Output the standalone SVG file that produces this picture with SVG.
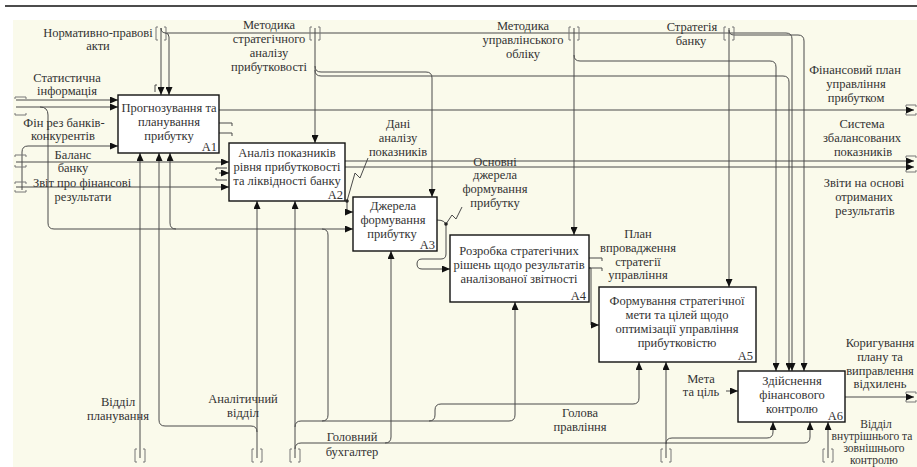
<svg xmlns="http://www.w3.org/2000/svg" width="917" height="467" viewBox="0 0 917 467">
<style>
.bg{fill:#fafaeb}
.box rect{fill:#fff;stroke:#111;stroke-width:1.4}
text{font-family:"Liberation Serif","Times New Roman",serif;fill:#333;text-anchor:middle}
.box text{font-size:12.5px}
.lbl text{font-size:12.5px}
.lbl text.s{font-size:11.5px}
.box text.id{text-anchor:end}
#connectors path{fill:none;stroke:#4a4a4a;stroke-width:1}
#connectors path.a{marker-end:url(#arr)}
.br{fill:none;stroke:#777;stroke-width:1}
.dot{fill:#222}
</style>
<defs>
<marker id="arr" markerUnits="userSpaceOnUse" markerWidth="9" markerHeight="7" refX="8" refY="3.5" orient="auto">
<path d="M0,0 L8,3.5 L0,7 z" fill="#111"/>
</marker>
</defs>
<rect x="0" y="0" width="917" height="467" fill="#fff"/>
<rect class="bg" x="13" y="20" width="904" height="447"/>
<line x1="5" y1="6" x2="917" y2="6" stroke="#111" stroke-width="1.5"/>

<g id="connectors">
<path class="a" d="M161,28 V95"/>
<path class="a" d="M161,28 q0,5 5,5 H786 q6,0 6,6 V371"/>
<path class="a" d="M165,33 q4,0 4,4 V95"/>
<path class="a" d="M315,28 V143"/>
<path class="a" d="M315,66 q0,6 6,6 H426 q6,0 6,6 V197"/>
<path class="a" d="M315,70 q0,6 6,6 H783 q6,0 6,6 V371"/>
<path class="a" d="M574,28 V235"/>
<path class="a" d="M574,55 q0,6 6,6 H770 q6,0 6,6 V371"/>
<path class="a" d="M729,28 V287"/>
<path class="a" d="M729,30 q0,5 5,5 H798 q6,0 6,6 V371"/>
<path class="a" d="M16,100 H118"/>
<path class="a" d="M16,107 H118"/>
<path class="a" d="M40,107 q8,0 8,8 V223 q0,6 6,6 H353"/>
<path class="a" d="M22,190 V152 q0,-6 6,-6 H118"/>
<path class="a" d="M16,162 H229"/>
<path class="a" d="M16,187 H229"/>
<path class="a" d="M219,173 H229"/>
<path d="M216,170 v-2 h11"/>
<path d="M216,178 v2 h11"/>
<path d="M219,123 H232 v3"/>
<path d="M219,133 H232 v3"/>
<path d="M157,85 h-2 v7"/>
<path class="a" d="M176,229 q-6,0 -6,-6 V153"/>
<path class="a" d="M347,201 V212 H353"/>
<path class="a" d="M437,220 q9,0 9,6 V254 q0,5 -5,5 H422 q-5,0 -5,5 q0,5 5,5 H450"/>
<path d="M589,258 H602 v3"/>
<path d="M589,268 H602 v3"/>
<path class="a" d="M589,268 H591 V325 H599"/>
<path class="a" d="M726,391 H738"/>
<path class="a" d="M219,110 H914"/>
<path class="a" d="M345,161 H914"/>
<path class="a" d="M345,167 H914"/>
<path class="a" d="M845,397 H914"/>
<path class="a" d="M140,458 V153"/>
<path class="a" d="M257,458 V201"/>
<path class="a" d="M257,432 q0,-6 -6,-6 H165 q-6,0 -6,-6 V153"/>
<path class="a" d="M295,458 V201"/>
<path class="a" d="M295,427 q0,-6 6,-6 H509 q6,0 6,-6 V302"/>
<path class="a" d="M295,449 q0,-6 6,-6 H804 q6,0 6,-6 V422"/>
<path class="a" d="M385,443 q6,0 6,-6 V251"/>
<path d="M322,229 q6,0 6,6 V415 q0,6 -6,6"/>
<path class="a" d="M429,421 q6,0 6,-6 V410 q0,-6 6,-6 H633 q6,0 6,-6 V362"/>
<path class="a" d="M666,458 V362"/>
<path class="a" d="M666,444 q0,-6 6,-6 H767 q6,0 6,-6 V422"/>
<path class="a" d="M828,458 V422"/>
<path d="M368,158 L360,178 L355,173 L347,201"/>
<path d="M446,224 L452,215 L456,219 L462,207"/>
</g>
<circle class="dot" cx="347" cy="201" r="1.8"/>
<circle class="dot" cx="446" cy="224" r="1.8"/>

<g class="br">
<path d="M158,27 h-2 v13 h2 M164,27 h2 v13 h-2"/>
<path d="M312,27 h-2 v13 h2 M318,27 h2 v13 h-2"/>
<path d="M571,27 h-2 v13 h2 M577,27 h2 v13 h-2"/>
<path d="M726,27 h-2 v13 h2 M732,27 h2 v13 h-2"/>
<path d="M137,449 h-2 v13 h2 M143,449 h2 v13 h-2"/>
<path d="M254,449 h-2 v13 h2 M260,449 h2 v13 h-2"/>
<path d="M292,449 h-2 v13 h2 M298,449 h2 v13 h-2"/>
<path d="M663,449 h-2 v13 h2 M669,449 h2 v13 h-2"/>
<path d="M825,449 h-2 v13 h2 M831,449 h2 v13 h-2"/>
<path d="M15,99 v-2 h11 v2 M15,113 v2 h11 v-2"/>
<path d="M15,157 v-2 h11 v2 M15,165 v2 h11 v-2"/>
<path d="M15,184 v-2 h11 v2 M15,190 v2 h11 v-2"/>
<path d="M906,107 v-2 h10 v2 M906,113 v2 h10 v-2"/>
<path d="M906,158 v-2 h10 v2 M906,170 v2 h10 v-2"/>
<path d="M906,394 v-2 h10 v2 M906,400 v2 h10 v-2"/>
</g>

<g id="A1" class="box"><rect x="118" y="95" width="101" height="58"/>
<text x="169" y="112">Прогнозування та</text><text x="169" y="126">планування</text><text x="169" y="140">прибутку</text><text class="id" x="217" y="151">A1</text></g>
<g id="A2" class="box"><rect x="229" y="143" width="116" height="58"/>
<text x="287" y="157">Аналіз показників</text><text x="287" y="171">рівня прибутковості</text><text x="287" y="185">та ліквідності банку</text><text class="id" x="343" y="199">A2</text></g>
<g id="A3" class="box"><rect x="353" y="197" width="84" height="54"/>
<text x="393" y="210">Джерела</text><text x="393" y="224">формування</text><text x="392" y="238">прибутку</text><text class="id" x="435" y="249">A3</text></g>
<g id="A4" class="box"><rect x="450" y="235" width="139" height="67"/>
<text x="519" y="255">Розробка стратегічних</text><text x="519" y="269">рішень щодо результатів</text><text x="519" y="283">аналізованої звітності</text><text class="id" x="586" y="300">A4</text></g>
<g id="A5" class="box"><rect x="599" y="287" width="157" height="75"/>
<text x="677" y="305">Формування стратегічної</text><text x="677" y="319">мети та цілей щодо</text><text x="677" y="333">оптимізації управління</text><text x="677" y="347">прибутковістю</text><text class="id" x="753" y="360">A5</text></g>
<g id="A6" class="box"><rect x="738" y="371" width="107" height="51"/>
<text x="792" y="385">Здійснення</text><text x="792" y="399">фінансового</text><text x="792" y="413">контролю</text><text class="id" x="843" y="420">A6</text></g>

<g id="labels" class="lbl">
<text x="98" y="37">Нормативно-правові</text><text x="98" y="50">акти</text>
<text x="269" y="29">Методика</text><text x="269" y="43">стратегічного</text><text x="269" y="57">аналізу</text><text x="269" y="71">прибутковості</text>
<text x="523" y="30">Методика</text><text x="523" y="44">управлінського</text><text x="523" y="58">обліку</text>
<text x="692" y="31">Стратегія</text><text x="691" y="45">банку</text>
<text x="855" y="74">Фінансовий план</text><text x="856" y="88">управління</text><text x="856" y="102">прибутком</text>
<text x="862" y="128">Система</text><text x="862" y="142">збалансованих</text><text x="863" y="156">показників</text>
<text x="864" y="187">Звіти на основі</text><text x="864" y="201">отриманих</text><text x="865" y="215">результатів</text>
<text x="398" y="128">Дані</text><text x="398" y="142">аналізу</text><text x="398" y="156">показників</text>
<text x="495" y="166">Основні</text><text x="495" y="179">джерела</text><text x="495" y="193">формування</text><text x="495" y="207">прибутку</text>
<text x="638" y="238">План</text><text x="638" y="252">впровадження</text><text x="638" y="266">стратегії</text><text x="638" y="279">управління</text>
<text x="701" y="383">Мета</text><text x="701" y="396">та ціль</text>
<text x="352" y="441">Головний</text><text x="352" y="456">бухгалтер</text>
<text x="580" y="417">Голова</text><text x="580" y="431">правління</text>
<text x="118" y="406">Відділ</text><text x="118" y="420">планування</text>
<text x="243" y="403">Аналітичний</text><text x="243" y="417">відділ</text>
<text x="880" y="347">Коригування</text><text x="880" y="361">плану та</text><text x="880" y="375">виправлення</text><text x="880" y="388">відхилень</text>
<text class="s" x="876" y="428">Відділ</text><text class="s" x="872" y="440">внутрішнього та</text><text class="s" x="874" y="452">зовнішнього</text><text class="s" x="874" y="464">контролю</text>
<text x="67" y="82">Статистична</text><text x="67" y="95">інформація</text>
<text x="64" y="127">Фін рез банків-</text><text x="63" y="140">конкурентів</text>
<text x="73" y="159">Баланс</text><text x="73" y="172">банку</text>
<text x="82" y="187">Звіт про фінансові</text><text x="83" y="201">результати</text>
</g>
</svg>
